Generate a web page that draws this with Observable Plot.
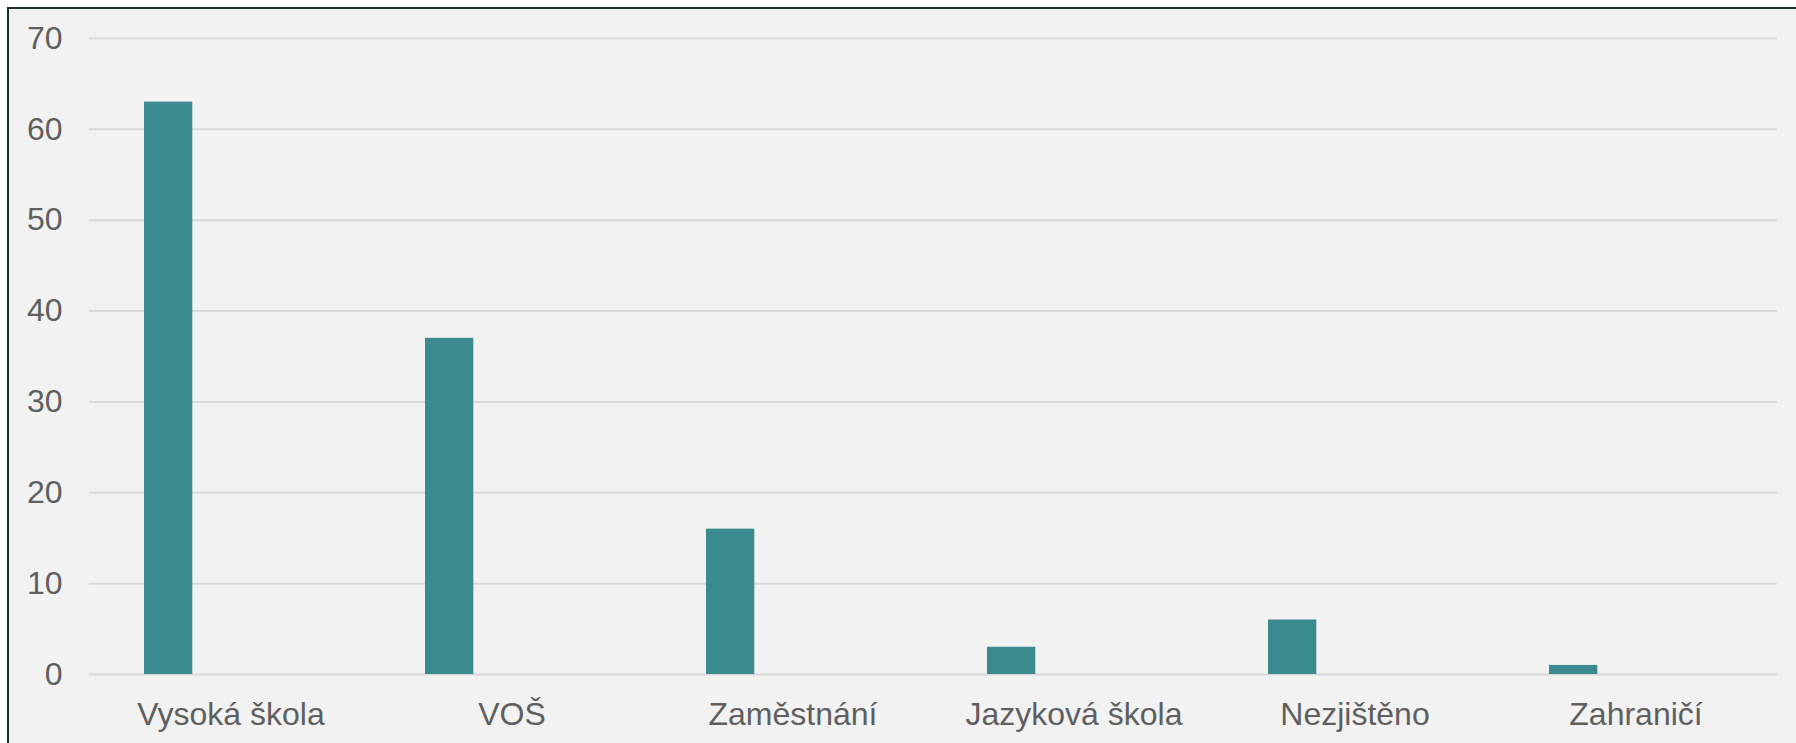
<!DOCTYPE html>
<html>
<head>
<meta charset="utf-8">
<script src="https://cdn.jsdelivr.net/npm/d3@7"></script>
<script src="https://cdn.jsdelivr.net/npm/@observablehq/plot@0.6"></script>
<style>
  html, body { margin: 0; padding: 0; background: #ffffff; }
  #wrap {
    position: absolute; left: 7px; top: 7px;
    width: 1787px; height: 734px;
    border-left: 2px solid #1e2d2d; border-top: 2px solid #1e2d2d;
    background: #f2f2f2; overflow: hidden;
  }
  #wrap svg { display: block; }
</style>
</head>
<body>
<div id="wrap"></div>
<script>
const categories = ["Vysoká škola", "VOŠ", "Zaměstnání", "Jazyková škola", "Nezjištěno", "Zahraničí"];
const values = [63, 37, 16, 3, 6, 1];
const yTicks = [0, 10, 20, 30, 40, 50, 60, 70];

const data = categories.map((c, i) => ({category: c, value: values[i]}));

const chart = Plot.plot({
  width: 1787,
  height: 734,
  marginLeft: 80,
  marginRight: 19,
  marginTop: 29,
  marginBottom: 69,
  style: {
    background: "#f2f2f2",
    fontFamily: "'Liberation Sans', Arial, sans-serif",
    fontSize: "32px",
    color: "#595959"
  },
  x: {domain: categories, padding: 0, label: null, tickSize: 0, tickPadding: 28},
  y: {domain: [0, 70], ticks: yTicks, label: null, tickSize: 0, tickPadding: 27},
  marks: [
    Plot.gridY(yTicks, {stroke: "#d9d9d9", strokeOpacity: 1, strokeWidth: 2}),
    Plot.barY(data, {
      x: "category", y: "value", fill: "#3b8a8f",
      insetLeft: 54, insetRight: 178.7
    }),
    Plot.axisX({tickSize: 0, tickPadding: 28, fill: "#5f5f5f", fontSize: 32}),
    Plot.axisY({ticks: yTicks, tickSize: 0, tickPadding: 27, fill: "#5f5f5f", fontSize: 32})
  ]
});

document.getElementById("wrap").appendChild(chart);
</script>
</body>
</html>
